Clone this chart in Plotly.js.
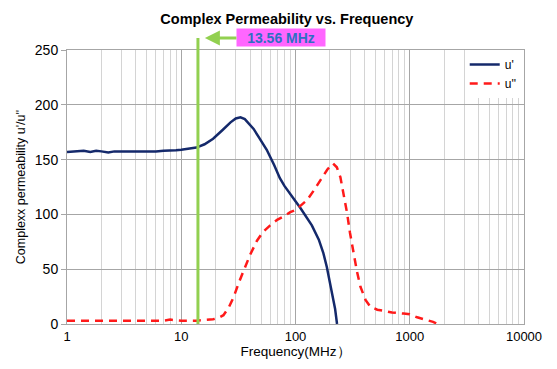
<!DOCTYPE html>
<html>
<head>
<meta charset="utf-8">
<script src="https://cdn.plot.ly/plotly-3.0.1.min.js"></script>
<style>html,body{margin:0;padding:0;background:#fff;}#chart{width:557px;height:369px;}</style>
</head>
<body>
<div id="chart"></div>
<script>
// u' (real part)
const freqReal = [1, 1.2, 1.4, 1.6, 1.8, 2, 2.3, 2.6, 3, 3.5, 4, 5, 6, 7, 8, 9, 10, 12, 13.56, 16, 19, 23, 27, 30, 33, 36, 40, 43, 48, 56, 65, 73, 80, 90, 100, 110, 120, 139, 160, 175, 188, 200, 210, 222, 231];
const uReal = [157, 157.5, 158, 157, 158, 157.5, 156.5, 157.5, 157.5, 157, 157.5, 157.5, 157.5, 158, 158, 158.5, 159, 160, 161, 164, 169, 177, 184, 187.5, 188.5, 187, 182, 178, 170, 159, 145, 133, 126, 118, 112, 106, 100, 90, 77, 65, 52, 38, 28, 14, 0];
// u'' (imaginary part)
const freqImag = [1, 2, 3, 5, 7, 8, 9, 10, 13.56, 17, 19, 21, 23.4, 26, 28.6, 32, 36, 40, 46, 52, 60, 69, 78, 90, 100, 113, 126, 145, 165, 190, 213, 230, 247, 265, 283, 300, 323, 345, 370, 410, 452, 520, 591, 700, 885, 1000, 1161, 1400, 1600, 1750];
const uImag = [3, 3, 3, 3, 3, 4, 3.5, 3, 3, 3.5, 4.3, 5.5, 8, 15, 24, 38, 52, 63, 76, 84, 90, 95, 98, 102, 104, 108.5, 113, 122, 131, 141, 146.5, 143, 134, 118, 101, 83, 64, 48, 34, 22, 15.8, 13, 12, 10.5, 9.5, 9, 6.1, 4, 2, 0];
// marker line (drawn at ~14 MHz in the picture) and its arrow tip
const markerLineFreq = 14.0;
const arrowTipFreq = 16.1;
const markerLabel = '13.56 MHz';
const xTickVals = [1, 10, 100, 1000, 10000];
const xTickText = ['1', '10', '100', '1000', '10000'];
const yTickVals = [0, 50, 100, 150, 200, 250];

const FONT = 'Liberation Sans, Arial, sans-serif';

const traces = [
  {x: freqReal, y: uReal, name: "u'", type: 'scatter', mode: 'lines',
   line: {color: '#14296b', width: 2.5}},
  {x: freqImag, y: uImag, name: "u''", type: 'scatter', mode: 'lines',
   line: {color: '#ff1a1a', width: 2.5, dash: '8px,6px'}}
];

const layout = {
  width: 557, height: 369,
  margin: {l: 67, r: 33, t: 50, b: 45},
  paper_bgcolor: '#fff', plot_bgcolor: '#fff',
  font: {family: FONT, size: 12, color: '#000'},
  title: {text: '<b>Complex Permeability vs. Frequency</b>', font: {family: FONT, size: 14.5, color: '#000'},
          x: 0.515, xanchor: 'center', y: 0.948, yanchor: 'middle'},
  xaxis: {type: 'log', range: [0, 4], tickvals: xTickVals, ticktext: xTickText,
          showgrid: true, gridcolor: '#a6a6a6', gridwidth: 1,
          minor: {dtick: 'D1', showgrid: true, gridcolor: '#d4d4d4', gridwidth: 1, ticks: ''},
          showline: true, linecolor: '#a6a6a6', mirror: true, ticks: '',
          tickfont: {family: FONT, size: 13}, zeroline: false,
          title: {text: 'Frequency(MHz）', font: {family: FONT, size: 13.5}, standoff: 3}},
  yaxis: {range: [0, 250], tickvals: yTickVals, showgrid: true, gridcolor: '#a6a6a6',
          showline: true, linecolor: '#a6a6a6', mirror: true, ticks: 'outside', ticklen: 5, tickcolor: '#a6a6a6',
          tickfont: {family: FONT, size: 14}, zeroline: false,
          title: {text: "Complexx permeability u'/u''", font: {family: FONT, size: 12.5}, standoff: 6}},
  legend: {x: 0.995, xanchor: 'right', y: 1.0, yanchor: 'top', bgcolor: '#fff',
           font: {family: FONT, size: 12}, tracegroupgap: 0},
  shapes: [
    {type: 'line', xref: 'x', yref: 'paper', x0: markerLineFreq, x1: markerLineFreq, y0: 0, y1: 1.044,
     line: {color: '#92d050', width: 3}}
  ],
  annotations: [
    {xref: 'x', yref: 'paper', x: Math.log10(arrowTipFreq), y: 1.044, text: '<b>' + markerLabel + '</b>',
     showarrow: true, arrowhead: 2, arrowsize: 1, arrowwidth: 3, arrowcolor: '#92d050',
     ax: 76, ay: 0, bgcolor: '#ff66ff', borderpad: 0, width: 88, height: 17,
     font: {family: FONT, size: 14, color: '#2e6fc2'}}
  ]
};

Plotly.newPlot('chart', traces, layout, {displayModeBar: false, staticPlot: true});
</script>
</body>
</html>
